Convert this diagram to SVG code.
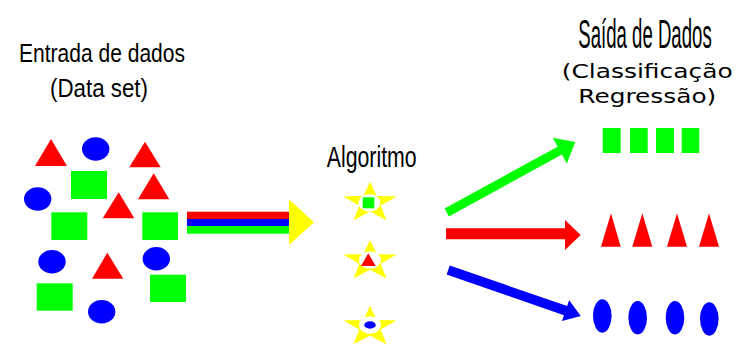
<svg xmlns="http://www.w3.org/2000/svg" width="738" height="344" viewBox="0 0 738 344">
<style>
.t{font-family:"Liberation Sans",Arial,sans-serif;fill:#000}
.w{font-family:"DejaVu Sans",Verdana,sans-serif;fill:#000}
.r{fill:#ff0000}.g{fill:#00ff00}.b{fill:#0000ff}.y{fill:#ffff00}.wh{fill:#ffffff}
</style>
<defs>
<path id="star" d="M0,-21.2 L6.6,-6.9 L26.6,-6.6 L10.7,2.6 L16.5,17.2 L0,8.5 L-16.5,17.2 L-10.7,2.6 L-26.6,-6.6 L-6.6,-6.9 Z"/>
</defs>
<rect width="738" height="344" fill="#ffffff"/>

<g id="title-input">
<text class="t" x="19" y="61.7" font-size="26.5" textLength="166" lengthAdjust="spacingAndGlyphs">Entrada de dados</text>
<text class="t" x="50" y="97.3" font-size="26.5" textLength="98" lengthAdjust="spacingAndGlyphs">(Data set)</text>
</g>

<g id="dataset">
<polygon class="r" points="51,139 35,166 67,166"/>
<ellipse class="b" cx="95.7" cy="149" rx="13.7" ry="11.7"/>
<polygon class="r" points="145,141.7 129.3,167.3 160.7,167.3"/>
<rect class="g" x="71" y="171" width="36" height="28"/>
<polygon class="r" points="153.7,173.3 138,199.3 169.3,199.3"/>
<ellipse class="b" cx="37.7" cy="199" rx="13.7" ry="11.7"/>
<polygon class="r" points="118.7,192.3 102.7,218.3 134.3,218.3"/>
<rect class="g" x="51.3" y="212.3" width="36" height="27.7"/>
<rect class="g" x="142.3" y="212.3" width="35.7" height="27.7"/>
<ellipse class="b" cx="52" cy="261.7" rx="13.7" ry="11.7"/>
<polygon class="r" points="107.3,252.7 92,278.7 123.3,278.7"/>
<ellipse class="b" cx="156.3" cy="258.7" rx="13.7" ry="11.7"/>
<rect class="g" x="150" y="274.7" width="36" height="27.3"/>
<rect class="g" x="36.7" y="283.3" width="36" height="27.4"/>
<ellipse class="b" cx="101.7" cy="311.7" rx="13.7" ry="11.7"/>
</g>

<g id="input-arrow">
<rect class="r" x="187" y="211.7" width="102.5" height="7.5"/>
<rect class="b" x="187" y="219" width="102.5" height="7.2"/>
<rect class="g" x="187" y="226" width="102.5" height="7.7"/>
<polygon class="y" points="289,199.3 314,222.3 289,245"/>
</g>

<g id="algoritmo">
<text class="t" x="326.7" y="166.7" font-size="29" textLength="90" lengthAdjust="spacingAndGlyphs">Algoritmo</text>
<g id="star1" transform="translate(370,203)">
<use href="#star" class="y"/>
<ellipse class="wh" cx="-0.5" cy="-0.2" rx="11" ry="8.8"/>
<rect class="g" x="-7.3" y="-5.7" width="11.6" height="11"/>
</g>
<g id="star2" transform="translate(370,261.2)">
<use href="#star" class="y"/>
<ellipse class="wh" cx="0" cy="-1.2" rx="11" ry="8.8"/>
<polygon class="r" points="-1.7,-7.9 -9,4.8 5.7,4.8"/>
</g>
<g id="star3" transform="translate(370,327)">
<use href="#star" class="y"/>
<ellipse class="wh" cx="0" cy="-2" rx="11" ry="8.8"/>
<ellipse class="b" cx="0" cy="-2" rx="5.8" ry="3.7"/>
</g>
</g>

<g id="connectors">
<g transform="translate(446.7,212.5) rotate(-28.7)">
<polygon class="g" points="0,-4.5 128.9,-4.5 128.9,-14.6 146.7,0 128.9,14.6 128.9,4.5 0,4.5"/>
</g>
<polygon class="r" points="446,228.3 565,228.3 565,220 580.7,235 565,250 565,239.3 446,239.3"/>
<g transform="translate(448.2,270) rotate(19.1)">
<polygon class="b" points="0,-4.8 124.2,-4.8 124.2,-11 140.3,0 124.2,11 124.2,4.8 0,4.8"/>
</g>
</g>

<g id="title-output">
<text class="t" transform="translate(578.3,47.7) scale(0.4537,1)" x="0" y="0" font-size="41" textLength="294" lengthAdjust="spacingAndGlyphs">Saída de Dados</text>
<text class="w" x="561.7" y="77.7" font-size="19.5" textLength="171" lengthAdjust="spacingAndGlyphs">(Classificação</text>
<text class="w" x="578.3" y="102.7" font-size="19.5" textLength="138" lengthAdjust="spacingAndGlyphs">Regressão)</text>
</g>

<g id="out-classes">
<rect class="g" x="602.7" y="128" width="18" height="25"/>
<rect class="g" x="630" y="128" width="17.7" height="25"/>
<rect class="g" x="656" y="128" width="18" height="25"/>
<rect class="g" x="681.7" y="128" width="17.6" height="25"/>
</g>

<g id="out-regression">
<polygon class="r" points="611,213.3 601,246.7 620.7,246.7"/>
<polygon class="r" points="642.3,213.3 632.3,246.7 652.3,246.7"/>
<polygon class="r" points="677,213.3 667,246.7 687,246.7"/>
<polygon class="r" points="709,213.3 699,246.7 719,246.7"/>
</g>

<g id="out-ellipses">
<ellipse class="b" cx="602.3" cy="316" rx="9.3" ry="16.7"/>
<ellipse class="b" cx="637.7" cy="317.7" rx="9.3" ry="16.7"/>
<ellipse class="b" cx="675" cy="317.7" rx="9.3" ry="16.7"/>
<ellipse class="b" cx="709.3" cy="319" rx="9.3" ry="16.7"/>
</g>
</svg>
